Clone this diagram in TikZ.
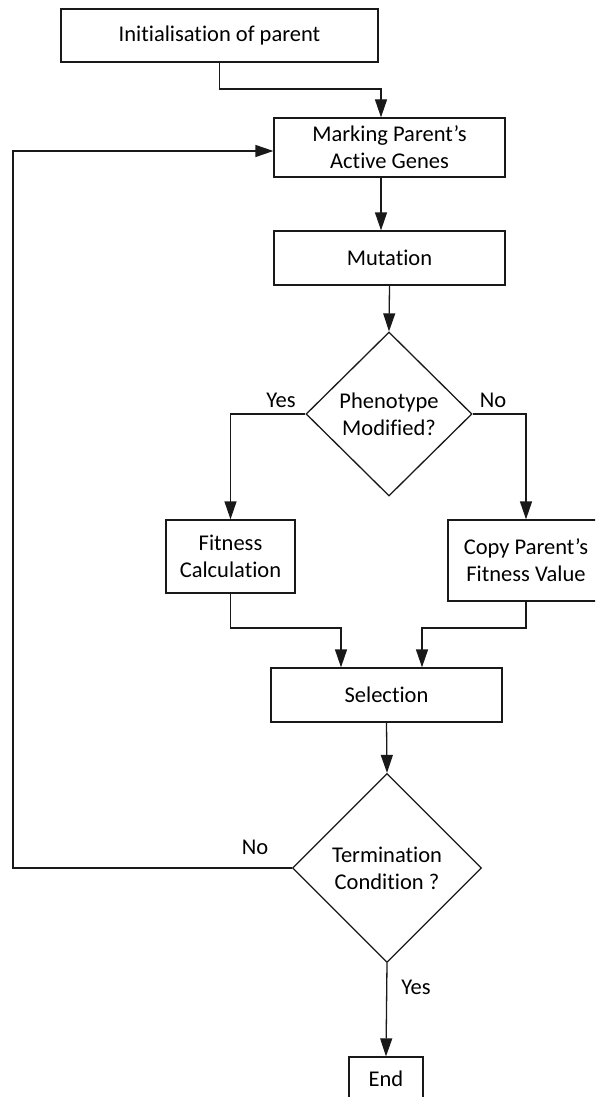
\documentclass[tikz,border=0pt]{standalone}
\usepackage{fontspec}
\setmainfont{Carlito}[Ligatures=NoCommon]
\usetikzlibrary{arrows.meta,shapes.geometric,calc}
\begin{document}
\begin{tikzpicture}[x=1pt,y=1pt,
  line width=1.3pt,
  every node/.style={font=\fontsize{22.5}{27}\selectfont, text=black},
  box/.style={draw=black!90, rectangle, inner sep=0pt, align=center},
  decision/.style={draw=black!90, diamond, inner sep=0pt, align=center},
  flow/.style={draw=black!90, -{Triangle[length=18pt,width=12pt]}},
  lbl/.style={inner sep=0pt}]
\useasboundingbox (0,0) rectangle (595,-1097);
\clip (0,0) rectangle (595,-1097);

% process steps
\node[box, minimum width=317, minimum height=53] (init) at (219.5,-35.5) {Initialisation of parent};
\node[box, minimum width=231, minimum height=59] (mark) at (389.5,-147.5) {Marking Parent’s\\Active Genes};
\node[box, minimum width=231, minimum height=54] (mut) at (389.5,-258) {Mutation};
\node[decision, minimum width=166, minimum height=164] (pheno) at (389,-414) {Phenotype\\Modified?};
\node[box, minimum width=129, minimum height=73] (fit) at (230.5,-556.5) {Fitness\\Calculation};
\node[box, minimum width=156, minimum height=81] (copy) at (526,-560.5) {Copy Parent’s\\Fitness Value};
\node[box, minimum width=231, minimum height=54] (sel) at (386.5,-695) {Selection};
\node[decision, minimum width=189, minimum height=189] (term) at (387,-868) {Termination\\Condition ?};
\node[box, minimum width=74, minimum height=43] (end) at (386,-1078.5) {End};

% branch labels
\node[lbl] (yes1) at (281,-400) {Yes};
\node[lbl] (no1) at (493,-400) {No};
\node[lbl] (no2) at (255,-847) {No};
\node[lbl] (yes2) at (416,-987) {Yes};

% routing helpers
\coordinate (topY) at (0,-89);
\coordinate (mergeY) at (0,-628);
\coordinate (loopX) at (13,0);

% connectors
\draw[flow] (init.south) -- (init.south |- topY) -| ([xshift=-8.5pt]mark.north);
\draw[flow] ([xshift=-8.5pt]mark.south) -- ([xshift=-8.5pt]mut.north);
\draw[flow] (mut.south) -- (pheno.north);
\draw[flow] (pheno.west) -| (fit.north);
\draw[flow] (pheno.east) -| (copy.north);
\draw[flow] (fit.south) -- (fit.south |- mergeY) -| ([xshift=-45.5pt]sel.north);
\draw[flow] (copy.south) -- (copy.south |- mergeY) -| ([xshift=35.5pt]sel.north);
\draw[flow] (sel.south) -- (term.north);
\draw[flow] (term.west) -- (term.west -| loopX) |- ([yshift=-3.5pt]mark.west);
\draw[flow] (term.south) -- (end.north);
\end{tikzpicture}
\end{document}
